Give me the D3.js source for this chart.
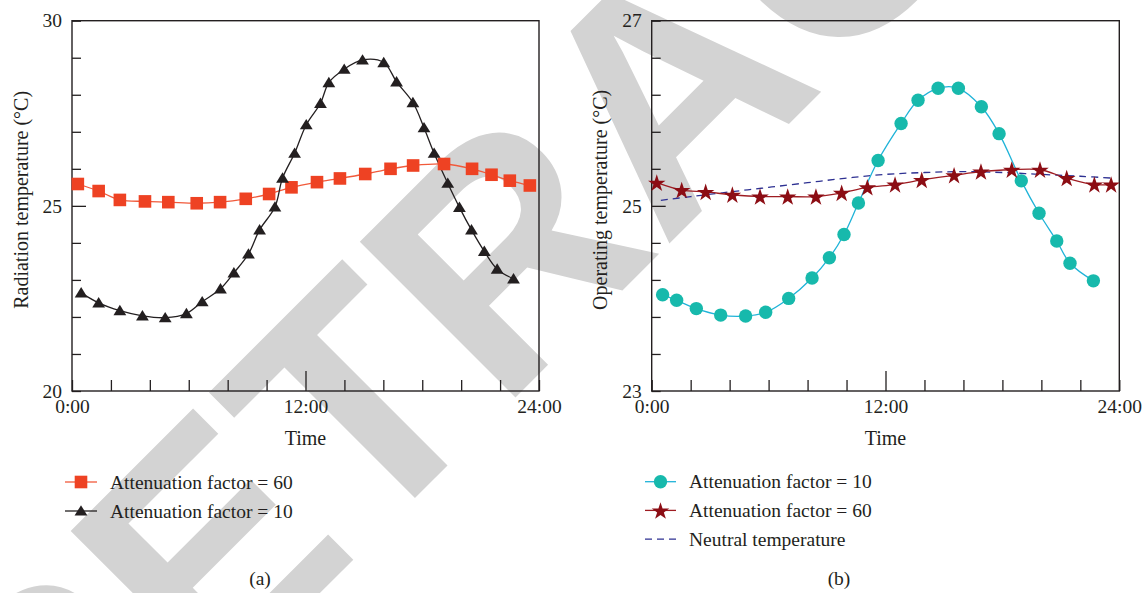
<!DOCTYPE html>
<html>
<head>
<meta charset="utf-8">
<script src="https://cdn.jsdelivr.net/npm/d3@7"></script>
<style>
  body { margin: 0; background: #fff; }
  svg { display: block; }
  text { font-family: "Liberation Serif", "DejaVu Serif", serif; fill: #231f20; }
</style>
</head>
<body>
<div id="chart"></div>
<script>
const width = 1147;
const height = 593;

// (a) radiation temperature
const squareHours = [0.3, 1.37, 2.46, 3.75, 4.95, 6.41, 7.61, 8.93, 10.13, 11.28, 12.59, 13.77, 15.07, 16.37, 17.53, 19.12, 20.56, 21.56, 22.5, 23.53];
const squareTemp = [25.59, 25.40, 25.16, 25.12, 25.10, 25.07, 25.10, 25.19, 25.32, 25.50, 25.64, 25.74, 25.86, 26.00, 26.09, 26.13, 26.00, 25.84, 25.68, 25.55];

const triangleHours = [0.47, 1.37, 2.46, 3.62, 4.79, 5.88, 6.69, 7.63, 8.32, 9.07, 9.64, 10.43, 10.82, 11.44, 12.04, 12.77, 13.2, 13.99, 14.93, 16.02, 16.68, 17.52, 18.09, 18.61, 19.31, 19.91, 20.53, 21.19, 21.85, 22.69];
const triangleTemp = [22.65, 22.38, 22.17, 22.03, 21.98, 22.09, 22.41, 22.76, 23.19, 23.70, 24.35, 24.97, 25.75, 26.42, 27.19, 27.77, 28.33, 28.69, 28.94, 28.87, 28.35, 27.79, 27.11, 26.42, 25.61, 24.96, 24.35, 23.77, 23.29, 23.03];

// (b) operating temperature
const circleHours = [0.56, 1.28, 2.29, 3.54, 4.82, 5.85, 7.03, 8.23, 9.12, 9.87, 10.61, 11.62, 12.8, 13.67, 14.7, 15.74, 16.92, 17.83, 18.97, 19.88, 20.79, 21.47, 22.67];
const circleTemp = [24.04, 23.98, 23.89, 23.82, 23.81, 23.85, 24.00, 24.22, 24.44, 24.69, 25.03, 25.49, 25.89, 26.14, 26.27, 26.27, 26.07, 25.78, 25.27, 24.92, 24.62, 24.38, 24.19];

const starHours = [0.26, 1.54, 2.77, 4.14, 5.56, 6.98, 8.43, 9.75, 11.07, 12.49, 13.86, 15.52, 16.9, 18.48, 19.93, 21.3, 22.72, 23.58];
const starTemp = [25.25, 25.17, 25.15, 25.12, 25.10, 25.10, 25.10, 25.14, 25.20, 25.23, 25.28, 25.33, 25.37, 25.39, 25.39, 25.30, 25.23, 25.23];

const neutralHours = [0.47, 2, 4, 6, 8, 10, 12, 14, 16, 18, 20, 22, 23.6];
const neutralTemp = [25.06, 25.10, 25.15, 25.20, 25.25, 25.30, 25.34, 25.36, 25.37, 25.36, 25.34, 25.32, 25.30];

const hourTicks = [0, 2, 4, 6, 8, 10, 12, 14, 16, 18, 20, 22, 24];
const hourLabels = {0: "0:00", 12: "12:00", 24: "24:00"};

const ink = "#231f20";

const svg = d3.select("#chart")
  .append("svg")
  .attr("width", width)
  .attr("height", height);

// retraction stamp behind everything
svg.append("text")
  .attr("transform", "translate(664,86) rotate(-45)")
  .attr("text-anchor", "middle")
  .attr("dy", "0.36em")
  .style("font-family", "'Liberation Sans', Arial, sans-serif")
  .style("font-weight", "bold")
  .style("font-size", "320px")
  .style("fill", "#d3d3d3")
  .text("RETRACTED");

const trianglePath = "M0,-5.8L6.4,4.6L-6.4,4.6Z";

function panel(opts) {
  const x = d3.scaleLinear().domain([0, 24]).range([opts.left, opts.right]);
  const y = d3.scaleLinear().domain(opts.yDomain).range([391, 20.7]);
  const g = svg.append("g");

  const xAxis = d3.axisBottom(x)
    .tickValues(hourTicks)
    .tickSize(-11)
    .tickPadding(8)
    .tickFormat(d => hourLabels[d] || "");
  const gx = g.append("g")
    .attr("transform", `translate(0,${y.range()[0]})`)
    .call(xAxis);
  gx.selectAll(".tick").filter(d => d === 12).select("line").attr("y2", -20);

  const yAxis = d3.axisLeft(y)
    .tickValues(opts.yTicks)
    .tickSize(-9)
    .tickPadding(10)
    .tickFormat(d => opts.yLabels.some(v => Math.abs(v - d) < 1e-6) ? d3.format("d")(d) : "");
  const gy = g.append("g")
    .attr("transform", `translate(${opts.left},0)`)
    .call(yAxis);
  gy.selectAll(".tick").filter(d => Math.abs(d - opts.yMajor) < 1e-6).select("line").attr("x2", 14);

  [gx, gy].forEach(a => {
    a.select(".domain").remove();
    a.selectAll("line").attr("stroke", ink).attr("stroke-width", 1.3);
    a.selectAll("text")
      .style("font-family", "'Liberation Serif', serif")
      .style("font-size", "19.5px")
      .attr("fill", ink);
  });

  g.append("rect")
    .attr("x", opts.left)
    .attr("y", y.range()[1])
    .attr("width", opts.right - opts.left)
    .attr("height", y.range()[0] - y.range()[1])
    .attr("fill", "none")
    .attr("stroke", ink)
    .attr("stroke-width", 1.4);

  g.append("text")
    .attr("x", (opts.left + opts.right) / 2)
    .attr("y", 445)
    .attr("text-anchor", "middle")
    .style("font-size", "20px")
    .text("Time");

  g.append("text")
    .attr("transform", `translate(${opts.titleX},${(391 + 20.7) / 2 - 6}) rotate(-90)`)
    .attr("text-anchor", "middle")
    .style("font-size", "20px")
    .text(opts.title);

  g.append("text")
    .attr("x", opts.tag[0])
    .attr("y", 585)
    .attr("text-anchor", "middle")
    .style("font-size", "19.5px")
    .text(opts.tag[1]);

  return {g, x, y};
}

function drawSeries(p, hours, temps, color, width, dash) {
  const pts = hours.map((h, i) => [h, temps[i]]);
  const line = d3.line()
    .x(d => p.x(d[0]))
    .y(d => p.y(d[1]))
    .curve(d3.curveCatmullRom.alpha(0.5));
  p.g.append("path")
    .datum(pts)
    .attr("d", line)
    .attr("fill", "none")
    .attr("stroke", color)
    .attr("stroke-width", width)
    .attr("stroke-dasharray", dash || null);
  return pts;
}

// ---------- panel (a)
const pa = panel({
  left: 72, right: 539,
  yDomain: [20, 30],
  yTicks: d3.range(20, 31, 1),
  yLabels: [20, 25, 30],
  yMajor: 25,
  title: "Radiation temperature (°C)",
  titleX: 28,
  tag: [260, "(a)"]
});

const sqPts = drawSeries(pa, squareHours, squareTemp, "#f15a3b", 1.3);
const triPts = drawSeries(pa, triangleHours, triangleTemp, ink, 1.3);

pa.g.selectAll(".sq")
  .data(sqPts)
  .join("rect")
  .attr("x", d => pa.x(d[0]) - 6.3)
  .attr("y", d => pa.y(d[1]) - 6.3)
  .attr("width", 12.6)
  .attr("height", 12.6)
  .attr("fill", "#ee4223");

pa.g.selectAll(".tri")
  .data(triPts)
  .join("path")
  .attr("d", trianglePath)
  .attr("transform", d => `translate(${pa.x(d[0])},${pa.y(d[1])})`)
  .attr("fill", ink);

// ---------- panel (b)
const pb = panel({
  left: 651.7, right: 1119.3,
  yDomain: [23, 27],
  yTicks: d3.range(0, 11).map(i => 23 + i * 0.4),
  yLabels: [23, 25, 27],
  yMajor: 25,
  title: "Operating temperature (°C)",
  titleX: 607,
  tag: [839, "(b)"]
});

drawSeries(pb, neutralHours, neutralTemp, "#2e3192", 1.3, "7,5");
const cirPts = drawSeries(pb, circleHours, circleTemp, "#1fb3d8", 1.3);
const starPts = drawSeries(pb, starHours, starTemp, "#9e1c22", 1.3);

pb.g.selectAll(".cir")
  .data(cirPts)
  .join("circle")
  .attr("cx", d => pb.x(d[0]))
  .attr("cy", d => pb.y(d[1]))
  .attr("r", 6.7)
  .attr("fill", "#17b9ac");

const star = d3.symbol().type(d3.symbolStar).size(95);
pb.g.selectAll(".star")
  .data(starPts)
  .join("path")
  .attr("d", star)
  .attr("transform", d => `translate(${pb.x(d[0])},${pb.y(d[1]) + 0.8})`)
  .attr("fill", "#8c0d14");

// ---------- legends
const legendA = [
  {label: "Attenuation factor = 60", color: "#f15a3b", marker: "square"},
  {label: "Attenuation factor = 10", color: ink, marker: "triangle"}
];
const legendB = [
  {label: "Attenuation factor = 10", color: "#1fb3d8", marker: "circle"},
  {label: "Attenuation factor = 60", color: "#9e1c22", marker: "star"},
  {label: "Neutral temperature", color: "#2e3192", marker: "dash"}
];

function legend(items, x0, x1, textX, y0, step) {
  const rows = svg.append("g")
    .selectAll("g")
    .data(items)
    .join("g")
    .attr("transform", (d, i) => `translate(0,${y0 + i * step})`);

  rows.append("line")
    .attr("x1", x0).attr("x2", x1)
    .attr("stroke", d => d.color)
    .attr("stroke-width", 1.3)
    .attr("stroke-dasharray", d => d.marker === "dash" ? "7,5" : null);

  const mx = (x0 + x1) / 2;
  rows.each(function(d) {
    const r = d3.select(this);
    if (d.marker === "square") {
      r.append("rect").attr("x", mx - 6.3).attr("y", -6.3).attr("width", 12.6).attr("height", 12.6).attr("fill", "#ee4223");
    } else if (d.marker === "triangle") {
      r.append("path").attr("d", trianglePath).attr("transform", `translate(${mx},0)`).attr("fill", ink);
    } else if (d.marker === "circle") {
      r.append("circle").attr("cx", mx).attr("r", 6.7).attr("fill", "#17b9ac");
    } else if (d.marker === "star") {
      r.append("path").attr("d", star).attr("transform", `translate(${mx},1)`).attr("fill", "#8c0d14");
    }
  });

  rows.append("text")
    .attr("x", textX)
    .attr("y", 6.5)
    .style("font-size", "19.5px")
    .text(d => d.label);
}

legend(legendA, 65, 97, 110, 482, 29);
legend(legendB, 645, 676, 689, 481.7, 28.7);
</script>
</body>
</html>
